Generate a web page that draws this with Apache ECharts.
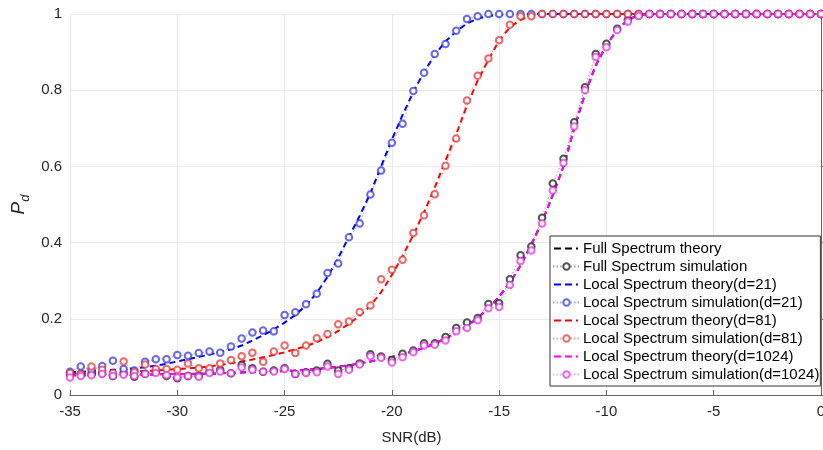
<!DOCTYPE html>
<html>
<head>
<meta charset="utf-8">
<script src="https://cdn.jsdelivr.net/npm/echarts@6/dist/echarts.min.js"></script>
<style>html,body{margin:0;padding:0;background:#fff}#c{width:823px;height:450px}</style>
</head>
<body>
<div id="c"></div>
<script>
const snr = [-35,-34.5,-34,-33.5,-33,-32.5,-32,-31.5,-31,-30.5,-30,-29.5,-29,-28.5,-28,-27.5,-27,-26.5,-26,-25.5,-25,-24.5,-24,-23.5,-23,-22.5,-22,-21.5,-21,-20.5,-20,-19.5,-19,-18.5,-18,-17.5,-17,-16.5,-16,-15.5,-15,-14.5,-14,-13.5,-13,-12.5,-12,-11.5,-11,-10.5,-10,-9.5,-9,-8.5,-8,-7.5,-7,-6.5,-6,-5.5,-5,-4.5,-4,-3.5,-3,-2.5,-2,-1.5,-1,-0.5,0];

const fullTheory = [0.052,0.052,0.052,0.053,0.053,0.053,0.054,0.054,0.054,0.055,0.055,0.055,0.056,0.056,0.057,0.058,0.059,0.060,0.061,0.062,0.063,0.064,0.066,0.068,0.071,0.074,0.078,0.083,0.088,0.094,0.100,0.107,0.115,0.124,0.135,0.148,0.163,0.181,0.202,0.228,0.258,0.295,0.340,0.395,0.455,0.525,0.600,0.700,0.790,0.865,0.918,0.958,0.985,0.997,1,1,1,1,1,1,1,1,1,1,1,1,1,1,1,1,1];
const fullSim = [0.055,0.055,0.055,0.057,0.050,0.057,0.048,0.056,0.061,0.050,0.044,0.050,0.050,0.061,0.066,0.057,0.079,0.070,0.061,0.064,0.070,0.055,0.060,0.064,0.082,0.064,0.070,0.083,0.107,0.101,0.092,0.108,0.117,0.136,0.136,0.152,0.176,0.190,0.202,0.239,0.241,0.304,0.367,0.390,0.465,0.555,0.620,0.716,0.808,0.895,0.922,0.961,0.985,0.996,1,1,1,1,1,1,1,1,1,1,1,1,1,1,1,1,1];
const d21Theory = [0.060,0.061,0.063,0.064,0.066,0.068,0.070,0.073,0.077,0.082,0.088,0.094,0.100,0.106,0.113,0.120,0.130,0.143,0.157,0.172,0.190,0.210,0.235,0.268,0.310,0.360,0.415,0.470,0.530,0.600,0.670,0.735,0.795,0.848,0.892,0.928,0.955,0.975,0.988,0.995,0.998,1,1,1,1,1,1,1,1,1,1,1,1,1,1,1,1,1,1,1,1,1,1,1,1,1,1,1,1,1,1];
const d21Sim = [0.061,0.075,0.066,0.076,0.090,0.068,0.064,0.087,0.094,0.094,0.105,0.103,0.110,0.114,0.111,0.127,0.148,0.164,0.169,0.167,0.210,0.217,0.238,0.266,0.320,0.345,0.414,0.450,0.526,0.589,0.662,0.712,0.798,0.846,0.895,0.921,0.956,0.987,0.994,1,1,1,1,1,1,1,1,1,1,1,1,1,1,1,1,1,1,1,1,1,1,1,1,1,1,1,1,1,1,1,1];
const d81Theory = [0.055,0.056,0.057,0.058,0.059,0.060,0.061,0.063,0.064,0.066,0.068,0.070,0.072,0.075,0.079,0.083,0.088,0.093,0.099,0.105,0.112,0.120,0.128,0.139,0.152,0.168,0.187,0.208,0.234,0.270,0.315,0.365,0.420,0.480,0.545,0.615,0.685,0.760,0.825,0.880,0.930,0.965,0.985,0.995,1,1,1,1,1,1,1,1,1,1,1,1,1,1,1,1,1,1,1,1,1,1,1,1,1,1,1];
const d81Sim = [0.058,0.055,0.075,0.066,0.058,0.088,0.060,0.080,0.068,0.068,0.066,0.083,0.070,0.070,0.083,0.092,0.102,0.111,0.087,0.114,0.130,0.110,0.130,0.149,0.160,0.186,0.193,0.218,0.235,0.304,0.329,0.355,0.425,0.472,0.527,0.602,0.673,0.773,0.838,0.883,0.931,0.972,0.994,0.994,1,1,1,1,1,1,1,1,1,1,1,1,1,1,1,1,1,1,1,1,1,1,1,1,1,1,1];
const d1024Theory = [0.052,0.052,0.052,0.053,0.053,0.053,0.054,0.054,0.054,0.055,0.055,0.055,0.056,0.056,0.057,0.058,0.059,0.060,0.061,0.062,0.063,0.064,0.066,0.068,0.071,0.074,0.078,0.083,0.088,0.094,0.100,0.107,0.115,0.124,0.135,0.148,0.163,0.181,0.202,0.228,0.258,0.295,0.340,0.395,0.455,0.525,0.600,0.700,0.790,0.865,0.918,0.958,0.985,0.997,1,1,1,1,1,1,1,1,1,1,1,1,1,1,1,1,1];
const d1024Sim = [0.046,0.050,0.052,0.055,0.050,0.053,0.050,0.055,0.058,0.052,0.046,0.050,0.048,0.058,0.062,0.057,0.072,0.066,0.061,0.062,0.068,0.055,0.058,0.060,0.075,0.055,0.066,0.080,0.102,0.098,0.085,0.099,0.112,0.130,0.132,0.143,0.167,0.176,0.196,0.228,0.231,0.289,0.352,0.379,0.450,0.537,0.609,0.705,0.800,0.887,0.913,0.958,0.980,0.995,1,1,1,1,1,1,1,1,1,1,1,1,1,1,1,1,1];

const xTicks = ['-35','-30','-25','-20','-15','-10','-5','0'];
const yTicks = ['0','0.2','0.4','0.6','0.8','1'];

const names = ['Full Spectrum theory','Full Spectrum simulation','Local Spectrum theory(d=21)','Local Spectrum simulation(d=21)','Local Spectrum theory(d=81)','Local Spectrum simulation(d=81)','Local Spectrum theory(d=1024)','Local Spectrum simulation(d=1024)'];

const pair = arr => snr.map((x, i) => [x, arr[i]]);
function theory(name, arr, color) {
  return {name, type:'line', data: pair(arr), symbol:'none', z: 3,
    lineStyle:{color, width:2, type:[6,4]}, itemStyle:{color}};
}
function sim(name, arr, color, lineColor) {
  return {name, type:'line', data: pair(arr), symbol:'emptyCircle', symbolSize:6.5, showSymbol:true, z: 4,
    lineStyle:{color: lineColor, width:1, type:[1.5,2]}, itemStyle:{color, borderColor: color, borderWidth:1}};
}

// dashed legend icon (two dashes and a dot) with invisible corner points fixing its box to 27x8
const dashIcon = 'path://M0,0h0.01v0.01h-0.01z M1,3h7v2h-7z M12,3h7v2h-7z M23,3h2v2h-2z M26.99,7.99h0.01v0.01h-0.01z';
const legendData = names.map((n, i) => i % 2 === 0 ? {name:n, icon: dashIcon} : {name:n});

const FONT = 'Liberation Sans, Arial, sans-serif';
const chart = echarts.init(document.getElementById('c'), null, {renderer:'canvas'});
chart.setOption({
  animation: false,
  backgroundColor: '#fff',
  grid: {left:70, right:2, top:14, bottom:55, containLabel:false, outerBoundsMode:'none'},
  xAxis: {
    type:'value', min:-35, max:0, interval:5,
    name:'SNR(dB)', nameLocation:'middle', nameGap:35, nameMoveOverlap:false,
    nameTextStyle:{fontFamily:FONT, fontSize:15, color:'#262626', padding:[0,68,0,0]},
    axisLine:{show:true, lineStyle:{color:'#666', width:1}},
    axisTick:{show:true, inside:true, length:5, lineStyle:{color:'#666'}},
    axisLabel:{fontFamily:FONT, fontSize:15, color:'#262626', margin:9,
      formatter: v => xTicks[Math.round((v + 35) / 5)]},
    splitLine:{show:true, lineStyle:{color:'#ebebeb', width:1}}
  },
  yAxis: {
    type:'value', min:0, max:1, interval:0.2,
    name:'{p|P}{d|d}', nameLocation:'middle', nameGap:38, nameRotate:90, nameMoveOverlap:false,
    nameTextStyle:{fontFamily:FONT, color:'#262626',
      rich:{
        p:{fontFamily:FONT, fontSize:19, fontStyle:'italic', color:'#262626', lineHeight:26, verticalAlign:'middle'},
        d:{fontFamily:FONT, fontSize:13, fontStyle:'italic', color:'#262626', lineHeight:13, verticalAlign:'bottom'}
      }},
    axisLine:{show:true, lineStyle:{color:'#666', width:1}},
    axisTick:{show:true, inside:true, length:5, lineStyle:{color:'#666'}},
    axisLabel:{fontFamily:FONT, fontSize:15, color:'#262626', margin:8,
      formatter: v => yTicks[Math.round(v / 0.2)]},
    splitLine:{show:true, lineStyle:{color:'#ebebeb', width:1}}
  },
  legend: {
    data: legendData, orient:'vertical', left:550, top:236,
    itemWidth:27, itemHeight:8, itemGap:3, symbolKeepAspect:false,
    padding:[5,1,4,2],
    backgroundColor:'#fff', borderColor:'#333', borderWidth:1,
    textStyle:{fontFamily:FONT, fontSize:15, lineHeight:15, color:'#000', padding:[0,0,0,-2]},
    inactiveColor:'#ccc'
  },
  series: [
    theory(names[0], fullTheory, '#000000'),
    sim(names[1], fullSim, 'rgba(40,40,40,0.8)', 'rgba(90,90,90,0.55)'),
    theory(names[2], d21Theory, '#0000ff'),
    sim(names[3], d21Sim, 'rgba(40,40,230,0.7)', 'rgba(90,90,255,0.55)'),
    theory(names[4], d81Theory, '#ff0000'),
    sim(names[5], d81Sim, 'rgba(230,40,40,0.7)', 'rgba(255,90,90,0.55)'),
    theory(names[6], d1024Theory, '#ff00ff'),
    sim(names[7], d1024Sim, 'rgba(225,40,225,0.7)', 'rgba(240,100,240,0.55)')
  ]
});
</script>
</body>
</html>
